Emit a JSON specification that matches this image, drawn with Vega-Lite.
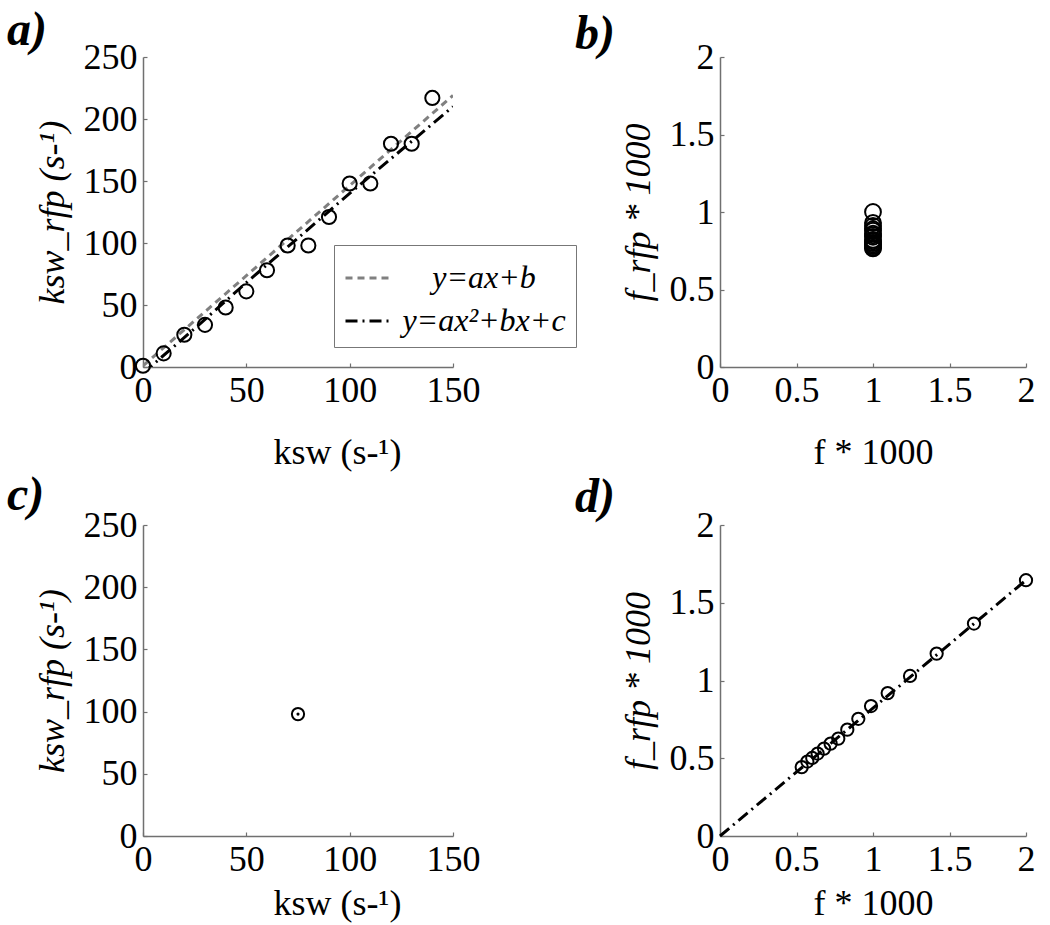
{
  "$schema": "https://vega.github.io/schema/vega-lite/v6.json",
  "background": "white",
  "padding": {"left": 7, "top": 7, "right": 5, "bottom": 5},
  "config": {
    "font": "Liberation Serif",
    "view": {"stroke": null},
    "axis": {
      "domainColor": "#707070", "domainWidth": 1.5,
      "tickColor": "#707070", "tickWidth": 1.2, "tickSize": -4,
      "grid": false, "labelFont": "Liberation Serif", "labelFontSize": 36, "labelColor": "#000",
      "titleFont": "Liberation Serif", "titleFontSize": 36, "titleFontWeight": "normal", "titleColor": "#000",
      "labelFlush": false, "labelOverlap": false, "labelPadding": 10
    },
    "legend": {"labelFont": "Liberation Serif", "titleFont": "Liberation Serif"},
    "title": {"font": "Liberation Serif", "fontSize": 48, "fontWeight": "bold", "fontStyle": "italic", "anchor": "start", "frame": "group", "color": "#000", "baseline": "alphabetic"}
  },
  "columns": 2,
  "bounds": "flush",
  "spacing": {"column": 267, "row": 158},
  "concat": [
    {
      "width": 310, "height": 310,
      "title": {"text": "a)", "dx": -136, "offset": -16},
      "layer": [
        {
          "data": {"values": [
            {"x": 0, "y": 1, "fit": "y=ax+b"},
            {"x": 150, "y": 219, "fit": "y=ax+b"},
            {"x": 0, "y": -5, "fit": "y=ax²+bx+c"},
            {"x": 25, "y": 31, "fit": "y=ax²+bx+c"},
            {"x": 50, "y": 68, "fit": "y=ax²+bx+c"},
            {"x": 75, "y": 104, "fit": "y=ax²+bx+c"},
            {"x": 100, "y": 140, "fit": "y=ax²+bx+c"},
            {"x": 125, "y": 175, "fit": "y=ax²+bx+c"},
            {"x": 150, "y": 210, "fit": "y=ax²+bx+c"}
          ]},
          "mark": {"type": "line", "strokeWidth": 3, "clip": true},
          "encoding": {
            "x": {"field": "x", "type": "quantitative", "scale": {"domain": [0, 150], "nice": false},
                  "axis": {"values": [0, 50, 100, 150], "title": "ksw (s-¹)", "titlePadding": 27, "titleX": 194}},
            "y": {"field": "y", "type": "quantitative", "scale": {"domain": [0, 250], "nice": false},
                  "axis": {"values": [0, 50, 100, 150, 200, 250], "title": "ksw_rfp (s-¹)", "titleFontStyle": "italic", "titlePadding": 12}},
            "color": {"field": "fit", "type": "nominal",
                      "scale": {"domain": ["y=ax+b", "y=ax²+bx+c"], "range": ["#808080", "#000000"]},
                      "legend": {"title": null, "orient": "none", "legendX": 191, "legendY": 188,
                                 "strokeColor": "#777777", "fillColor": "white", "padding": 10,
                                 "labelFont": "Liberation Serif",
                                 "labelFontSize": 32, "labelFontStyle": "italic", "labelColor": "#000",
                                 "labelAlign": "center", "labelOffset": 94, "labelLimit": 400,
                                 "symbolType": "stroke", "symbolSize": 1849, "symbolStrokeWidth": 3, "rowPadding": 4}},
            "strokeDash": {"field": "fit", "type": "nominal",
                           "scale": {"domain": ["y=ax+b", "y=ax²+bx+c"], "range": [[7, 5], [12, 5, 2, 5]]}}
          }
        },
        {
          "data": {"values": [
            {"x": 0, "y": 1}, {"x": 10, "y": 11}, {"x": 20, "y": 26}, {"x": 30, "y": 34},
            {"x": 40, "y": 48}, {"x": 50, "y": 61}, {"x": 60, "y": 78}, {"x": 70, "y": 98},
            {"x": 80, "y": 98}, {"x": 90, "y": 121}, {"x": 100, "y": 148}, {"x": 110, "y": 148},
            {"x": 120, "y": 180}, {"x": 130, "y": 180}, {"x": 140, "y": 217}
          ]},
          "mark": {"type": "point", "shape": "circle", "filled": false, "color": "#000", "strokeWidth": 2, "size": 200, "opacity": 1},
          "encoding": {
            "x": {"field": "x", "type": "quantitative"},
            "y": {"field": "y", "type": "quantitative"}
          }
        }
      ]
    },
    {
      "width": 306, "height": 310,
      "title": {"text": "b)", "dx": -145, "offset": -20},
      "data": {"values": [
        {"x": 1, "y": 1.0}, {"x": 1, "y": 0.93}, {"x": 1, "y": 0.91}, {"x": 1, "y": 0.89},
        {"x": 1, "y": 0.88}, {"x": 1, "y": 0.86}, {"x": 1, "y": 0.85}, {"x": 1, "y": 0.84},
        {"x": 1, "y": 0.82}, {"x": 1, "y": 0.81}, {"x": 1, "y": 0.8}, {"x": 1, "y": 0.79},
        {"x": 1, "y": 0.78}, {"x": 1, "y": 0.77}, {"x": 1, "y": 0.765}
      ]},
      "mark": {"type": "point", "shape": "circle", "filled": false, "color": "#000", "strokeWidth": 2, "size": 250, "opacity": 1},
      "encoding": {
        "x": {"field": "x", "type": "quantitative", "scale": {"domain": [0, 2], "nice": false},
              "axis": {"values": [0, 0.5, 1, 1.5, 2], "format": "~g", "title": "f * 1000", "titlePadding": 27}},
        "y": {"field": "y", "type": "quantitative", "scale": {"domain": [0, 2], "nice": false},
              "axis": {"values": [0, 0.5, 1, 1.5, 2], "format": "~g", "title": "f_rfp * 1000", "titleFontStyle": "italic", "titlePadding": 12}}
      }
    },
    {
      "width": 310, "height": 311,
      "title": {"text": "c)", "dx": -136, "offset": -13},
      "data": {"values": [{"x": 75, "y": 98}]},
      "layer": [
        {
          "mark": {"type": "point", "shape": "circle", "filled": false, "color": "#000", "strokeWidth": 2, "size": 150, "opacity": 1},
          "encoding": {
            "x": {"field": "x", "type": "quantitative", "scale": {"domain": [0, 150], "nice": false},
                  "axis": {"values": [0, 50, 100, 150], "title": "ksw (s-¹)", "titlePadding": 9, "titleX": 194}},
            "y": {"field": "y", "type": "quantitative", "scale": {"domain": [0, 250], "nice": false},
                  "axis": {"values": [0, 50, 100, 150, 200, 250], "title": "ksw_rfp (s-¹)", "titleFontStyle": "italic", "titlePadding": 12}}
          }
        },
        {
          "mark": {"type": "point", "shape": "circle", "filled": true, "color": "#000", "size": 10, "opacity": 1},
          "encoding": {
            "x": {"field": "x", "type": "quantitative"},
            "y": {"field": "y", "type": "quantitative"}
          }
        }
      ]
    },
    {
      "width": 306, "height": 311,
      "title": {"text": "d)", "dx": -145, "offset": -15},
      "layer": [
        {
          "data": {"values": [{"x": 0, "y": 0}, {"x": 2, "y": 1.645}]},
          "mark": {"type": "line", "strokeWidth": 3, "color": "#000", "strokeDash": [12, 5, 2, 5]},
          "encoding": {
            "x": {"field": "x", "type": "quantitative", "scale": {"domain": [0, 2], "nice": false},
                  "axis": {"values": [0, 0.5, 1, 1.5, 2], "format": "~g", "title": "f * 1000", "titlePadding": 9}},
            "y": {"field": "y", "type": "quantitative", "scale": {"domain": [0, 2], "nice": false},
                  "axis": {"values": [0, 0.5, 1, 1.5, 2], "format": "~g", "title": "f_rfp * 1000", "titleFontStyle": "italic", "titlePadding": 12}}
          }
        },
        {
          "data": {"values": [
            {"x": 2.0, "y": 1.645}, {"x": 1.66, "y": 1.366}, {"x": 1.416, "y": 1.173}, {"x": 1.242, "y": 1.029},
            {"x": 1.096, "y": 0.919}, {"x": 0.987, "y": 0.836}, {"x": 0.904, "y": 0.754}, {"x": 0.832, "y": 0.684},
            {"x": 0.773, "y": 0.626}, {"x": 0.723, "y": 0.594}, {"x": 0.68, "y": 0.562}, {"x": 0.638, "y": 0.53},
            {"x": 0.603, "y": 0.502}, {"x": 0.571, "y": 0.479}, {"x": 0.534, "y": 0.443}
          ]},
          "mark": {"type": "point", "shape": "circle", "filled": false, "color": "#000", "strokeWidth": 2, "size": 150, "opacity": 1},
          "encoding": {
            "x": {"field": "x", "type": "quantitative"},
            "y": {"field": "y", "type": "quantitative"}
          }
        }
      ]
    }
  ]
}
